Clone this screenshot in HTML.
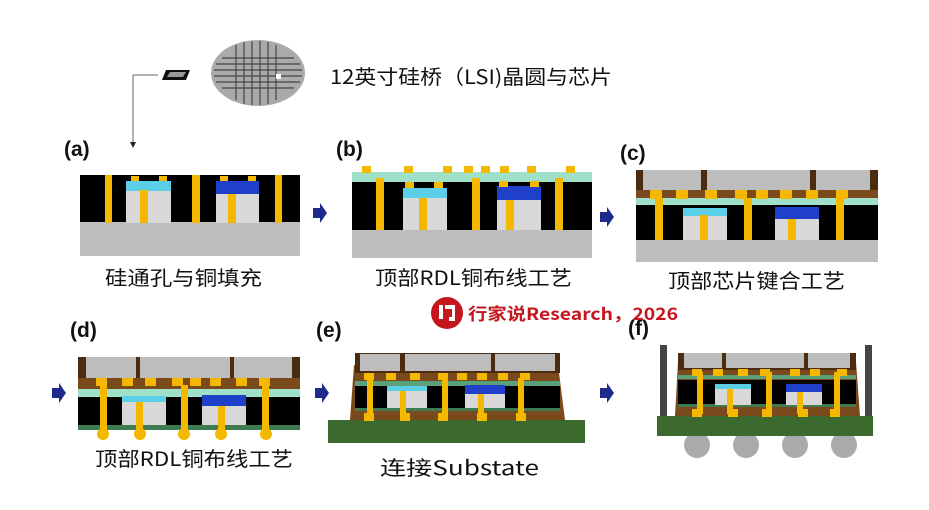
<!DOCTYPE html>
<html><head><meta charset="utf-8"><style>
html,body{margin:0;padding:0;background:#fff;}
svg{display:block;}
text{font-family:"Liberation Sans","Noto Sans CJK SC",sans-serif;}
.cj{font-family:"Noto Sans CJK SC","Liberation Sans",sans-serif;}
</style></head><body>
<svg width="929" height="510" viewBox="0 0 929 510" xmlns="http://www.w3.org/2000/svg">
<!-- top lead-in -->
<line x1="133" y1="75" x2="158" y2="75" stroke="#666" stroke-width="1"/>
<line x1="133" y1="75" x2="133" y2="142" stroke="#666" stroke-width="1"/>
<polygon points="130,142 136,142 133,148" fill="#222"/>
<polygon points="166,70 190,70 186,80 162,80" fill="#111"/>
<polygon points="170,72 186,72 183,77 167,77" fill="#999"/>
<ellipse cx="258" cy="73" rx="47" ry="33" fill="#aaa"/>
<g stroke="#444" stroke-width="1.2">
<line x1="222" y1="58" x2="294" y2="58"/><line x1="216" y1="64" x2="300" y2="64"/><line x1="214" y1="70" x2="302" y2="70"/><line x1="214" y1="76" x2="302" y2="76"/><line x1="216" y1="82" x2="300" y2="82"/><line x1="222" y1="88" x2="294" y2="88"/>
<line x1="236" y1="45" x2="236" y2="100"/><line x1="244" y1="42" x2="244" y2="104"/><line x1="252" y1="41" x2="252" y2="105"/><line x1="260" y1="41" x2="260" y2="105"/><line x1="268" y1="42" x2="268" y2="104"/><line x1="276" y1="45" x2="276" y2="100"/>
</g>
<rect x="276" y="74" width="5" height="5" fill="#fff"/>
<text class="cj" x="330" y="84" font-size="20" fill="#111" textLength="282" lengthAdjust="spacingAndGlyphs">12英寸硅桥（LSI)晶圆与芯片</text>

<!-- labels -->
<g font-weight="bold" font-size="21" fill="#111">
<text x="64" y="156">(a)</text><text x="336" y="156">(b)</text><text x="620" y="160">(c)</text>
<text x="70" y="337">(d)</text><text x="316" y="337">(e)</text><text x="628" y="335">(f)</text>
</g>
<g class="cj" font-size="20" fill="#111">
<text class="cj" x="105" y="285" textLength="157" lengthAdjust="spacingAndGlyphs">硅通孔与铜填充</text>
<text class="cj" x="375" y="285" textLength="197" lengthAdjust="spacingAndGlyphs">顶部RDL铜布线工艺</text>
<text class="cj" x="668" y="288" textLength="177" lengthAdjust="spacingAndGlyphs">顶部芯片键合工艺</text>
<text class="cj" x="95" y="466" textLength="198" lengthAdjust="spacingAndGlyphs">顶部RDL铜布线工艺</text>
<text class="cj" x="380" y="475" textLength="159" lengthAdjust="spacingAndGlyphs">连接Substate</text>
</g>

<!-- arrows -->
<g fill="#1e2a8c">
<polygon points="313,208 320,208 320,203 327,213 320,223 320,218 313,218"/>
<polygon points="600,212 607,212 607,207 614,217 607,227 607,222 600,222"/>
<polygon points="52,388 59,388 59,383 66,393 59,403 59,398 52,398"/>
<polygon points="315,388 322,388 322,383 329,393 322,403 322,398 315,398"/>
<polygon points="600,388 607,388 607,383 614,393 607,403 607,398 600,398"/>
</g>

<!-- panel a -->
<rect x="80" y="175" width="220" height="48" fill="#000"/>
<rect x="80" y="222" width="220" height="34" fill="#bdbdbd"/>
<rect x="126" y="181" width="45" height="42" fill="#d8d8d8"/><rect x="126" y="181" width="45" height="10" fill="#5ccfe8"/>
<rect x="216" y="181" width="43" height="42" fill="#d8d8d8"/><rect x="216" y="181" width="43" height="13" fill="#1f40c8"/>
<g fill="#f5b800">
<rect x="105" y="175" width="7" height="48"/><rect x="192" y="175" width="8" height="48"/><rect x="275" y="175" width="7" height="48"/>
<rect x="140" y="190" width="8" height="33"/><rect x="228" y="194" width="8" height="29"/>
<rect x="131" y="176" width="8" height="5"/><rect x="159" y="176" width="8" height="5"/><rect x="220" y="176" width="8" height="5"/><rect x="248" y="176" width="8" height="5"/>
</g>

<!-- panel b -->
<rect x="352" y="172" width="240" height="10" fill="#9fe0c8"/>
<rect x="352" y="182" width="240" height="48" fill="#000"/>
<rect x="352" y="230" width="240" height="28" fill="#bdbdbd"/>
<rect x="403" y="188" width="44" height="42" fill="#d8d8d8"/><rect x="403" y="188" width="44" height="10" fill="#5ccfe8"/>
<rect x="497" y="186" width="44" height="44" fill="#d8d8d8"/><rect x="497" y="186" width="44" height="14" fill="#1f40c8"/>
<g fill="#f5b800">
<rect x="376" y="178" width="8" height="52"/><rect x="472" y="178" width="8" height="52"/><rect x="555" y="178" width="8" height="52"/>
<rect x="419" y="198" width="8" height="32"/><rect x="506" y="200" width="8" height="30"/>
<rect x="362" y="166" width="9" height="7"/><rect x="404" y="166" width="9" height="7"/><rect x="443" y="166" width="9" height="7"/><rect x="464" y="166" width="9" height="7"/><rect x="481" y="166" width="9" height="7"/><rect x="500" y="166" width="9" height="7"/><rect x="527" y="166" width="9" height="7"/><rect x="566" y="166" width="9" height="7"/>
<rect x="405" y="182" width="9" height="6"/><rect x="434" y="182" width="9" height="6"/><rect x="499" y="181" width="9" height="6"/><rect x="530" y="181" width="9" height="6"/>
</g>

<!-- panel c -->
<rect x="636" y="170" width="242" height="28" fill="#4a2c10"/>
<rect x="643" y="170" width="58" height="20" fill="#bdbdbd"/><rect x="707" y="170" width="103" height="20" fill="#bdbdbd"/><rect x="816" y="170" width="54" height="20" fill="#bdbdbd"/>
<rect x="636" y="190" width="242" height="8" fill="#7a4a1c"/>
<rect x="636" y="198" width="242" height="7" fill="#9fe0c8"/>
<rect x="636" y="205" width="242" height="35" fill="#000"/>
<rect x="636" y="240" width="242" height="22" fill="#bdbdbd"/>
<rect x="683" y="208" width="44" height="32" fill="#d8d8d8"/><rect x="683" y="208" width="44" height="8" fill="#5ccfe8"/>
<rect x="775" y="207" width="44" height="33" fill="#d8d8d8"/><rect x="775" y="207" width="44" height="12" fill="#1f40c8"/>
<g fill="#f5b800">
<rect x="655" y="198" width="8" height="42"/><rect x="744" y="198" width="8" height="42"/><rect x="836" y="198" width="8" height="42"/>
<rect x="700" y="215" width="8" height="25"/><rect x="788" y="219" width="8" height="21"/>
<rect x="650" y="190" width="12" height="9"/><rect x="676" y="190" width="12" height="9"/><rect x="705" y="190" width="12" height="9"/><rect x="735" y="190" width="12" height="9"/><rect x="756" y="190" width="12" height="9"/><rect x="780" y="190" width="12" height="9"/><rect x="806" y="190" width="12" height="9"/><rect x="836" y="190" width="12" height="9"/>
</g>

<!-- panel d -->
<rect x="78" y="357" width="222" height="33" fill="#4a2c10"/>
<rect x="86" y="357" width="50" height="21" fill="#bdbdbd"/><rect x="140" y="357" width="90" height="21" fill="#bdbdbd"/><rect x="234" y="357" width="58" height="21" fill="#bdbdbd"/>
<rect x="78" y="378" width="222" height="11" fill="#7a4a1c"/>
<rect x="78" y="389" width="222" height="8" fill="#9fe0c8"/>
<rect x="78" y="397" width="222" height="28" fill="#000"/>
<rect x="78" y="425" width="222" height="5" fill="#3f7a50"/>
<rect x="122" y="396" width="44" height="29" fill="#d8d8d8"/><rect x="122" y="396" width="44" height="6" fill="#5ccfe8"/>
<rect x="202" y="395" width="44" height="30" fill="#d8d8d8"/><rect x="202" y="395" width="44" height="11" fill="#1f40c8"/>
<g fill="#f5b800">
<rect x="100" y="385" width="7" height="45"/><rect x="181" y="385" width="7" height="45"/><rect x="262" y="385" width="7" height="45"/>
<rect x="136" y="402" width="7" height="28"/><rect x="218" y="406" width="7" height="24"/>
<rect x="96" y="378" width="11" height="8"/><rect x="122" y="378" width="11" height="8"/><rect x="145" y="378" width="11" height="8"/><rect x="172" y="378" width="11" height="8"/><rect x="190" y="378" width="11" height="8"/><rect x="210" y="378" width="11" height="8"/><rect x="236" y="378" width="11" height="8"/><rect x="259" y="378" width="11" height="8"/>
<circle cx="103" cy="434" r="6"/><circle cx="140" cy="434" r="6"/><circle cx="184" cy="434" r="6"/><circle cx="221" cy="434" r="6"/><circle cx="266" cy="434" r="6"/>
</g>

<!-- panel e -->
<rect x="328" y="420" width="257" height="23" fill="#3c6a2e"/>
<polygon points="350,420 354,365 558,365 565,420" fill="#7a4a1c"/>
<rect x="355" y="353" width="205" height="20" fill="#4a2c10"/>
<rect x="360" y="354" width="40" height="17" fill="#bdbdbd"/><rect x="405" y="354" width="86" height="17" fill="#bdbdbd"/><rect x="495" y="354" width="60" height="17" fill="#bdbdbd"/>
<rect x="355" y="381" width="205" height="5" fill="#5aa07a"/>
<rect x="355" y="386" width="205" height="24" fill="#000"/>
<rect x="355" y="408" width="205" height="3" fill="#3f7a50"/>
<rect x="387" y="386" width="40" height="22" fill="#d8d8d8"/><rect x="387" y="386" width="40" height="5" fill="#5ccfe8"/>
<rect x="465" y="385" width="40" height="23" fill="#d8d8d8"/><rect x="465" y="385" width="40" height="9" fill="#1f40c8"/>
<g fill="#f5b800">
<rect x="367" y="378" width="6" height="40"/><rect x="442" y="378" width="6" height="40"/><rect x="518" y="378" width="6" height="40"/>
<rect x="400" y="391" width="6" height="27"/><rect x="478" y="394" width="6" height="24"/>
<rect x="364" y="373" width="10" height="7"/><rect x="386" y="373" width="10" height="7"/><rect x="410" y="373" width="10" height="7"/><rect x="438" y="373" width="10" height="7"/><rect x="457" y="373" width="10" height="7"/><rect x="477" y="373" width="10" height="7"/><rect x="498" y="373" width="10" height="7"/><rect x="520" y="373" width="10" height="7"/>
<rect x="364" y="413" width="10" height="8"/><rect x="400" y="413" width="10" height="8"/><rect x="438" y="413" width="10" height="8"/><rect x="477" y="413" width="10" height="8"/><rect x="516" y="413" width="10" height="8"/>
</g>

<!-- panel f -->
<rect x="660" y="345" width="7" height="72" fill="#444"/><rect x="865" y="345" width="7" height="72" fill="#444"/>
<g fill="#aaa"><circle cx="697" cy="445" r="13"/><circle cx="746" cy="445" r="13"/><circle cx="795" cy="445" r="13"/><circle cx="844" cy="445" r="13"/></g>
<rect x="657" y="416" width="216" height="20" fill="#3c6a2e"/>
<polygon points="675,416 678,362 856,362 860,416" fill="#7a4a1c"/>
<rect x="678" y="353" width="178" height="17" fill="#4a2c10"/>
<rect x="684" y="353" width="38" height="15" fill="#bdbdbd"/><rect x="726" y="353" width="78" height="15" fill="#bdbdbd"/><rect x="808" y="353" width="42" height="15" fill="#bdbdbd"/>
<rect x="678" y="375" width="178" height="4" fill="#5aa07a"/>
<rect x="678" y="380" width="178" height="25" fill="#000"/>
<rect x="678" y="404" width="178" height="3" fill="#3f7a50"/>
<rect x="715" y="384" width="36" height="21" fill="#d8d8d8"/><rect x="715" y="384" width="36" height="5" fill="#5ccfe8"/>
<rect x="786" y="384" width="36" height="21" fill="#d8d8d8"/><rect x="786" y="384" width="36" height="8" fill="#1f40c8"/>
<g fill="#f5b800">
<rect x="697" y="372" width="6" height="42"/><rect x="766" y="372" width="6" height="42"/><rect x="834" y="372" width="6" height="42"/>
<rect x="727" y="389" width="6" height="25"/><rect x="797" y="392" width="6" height="22"/>
<rect x="692" y="369" width="10" height="7"/><rect x="713" y="369" width="10" height="7"/><rect x="738" y="369" width="10" height="7"/><rect x="760" y="369" width="10" height="7"/><rect x="790" y="369" width="10" height="7"/><rect x="810" y="369" width="10" height="7"/><rect x="837" y="369" width="10" height="7"/>
<rect x="692" y="409" width="10" height="8"/><rect x="728" y="409" width="10" height="8"/><rect x="762" y="409" width="10" height="8"/><rect x="798" y="409" width="10" height="8"/><rect x="830" y="409" width="10" height="8"/>
</g>

<!-- watermark -->
<circle cx="447" cy="313" r="16" fill="#c4161c"/>
<path d="M439,305 h4 v14 h-4 z M445,305 h10 v16 h-6 v-4 h3 v-8 h-7 z" fill="#fff"/>
<text class="cj" x="468" y="320" font-size="17" font-weight="bold" fill="#c4161c" textLength="210" lengthAdjust="spacingAndGlyphs">行家说Research，2026</text>
</svg>
</body></html>
